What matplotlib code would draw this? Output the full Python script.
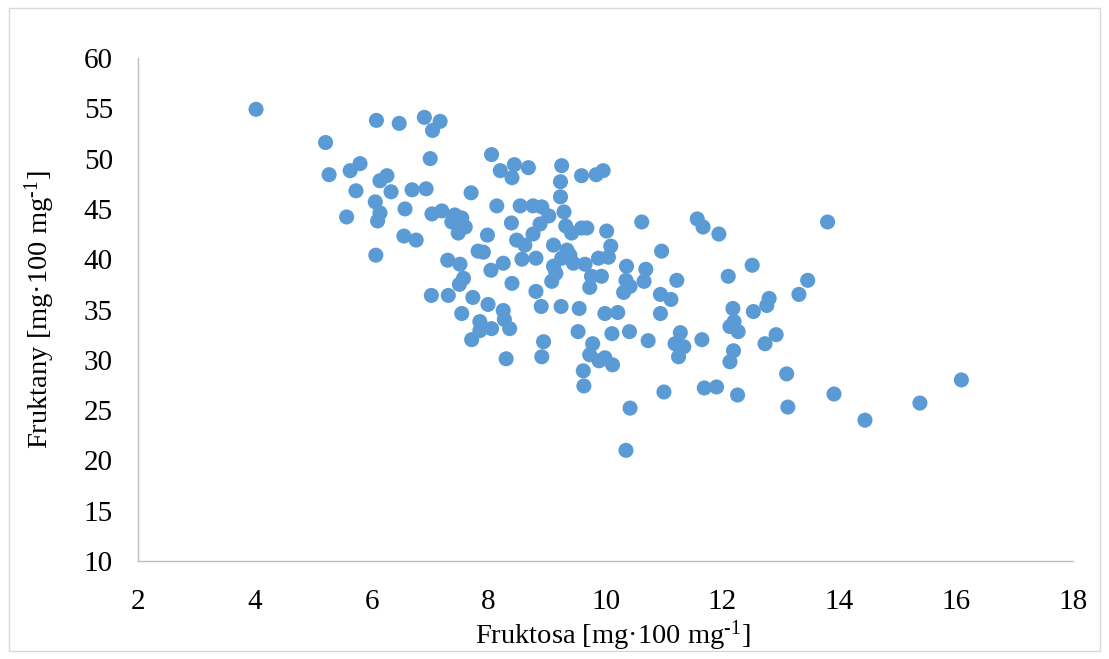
import matplotlib
matplotlib.use("Agg")
import matplotlib.pyplot as plt
from matplotlib.patches import Rectangle

# Fructose vs. fructan content of the samples [mg·100 mg^-1]
fruktosa = [
    4.02, 5.21, 5.27, 5.63, 5.80, 5.73, 5.57, 6.08, 6.47, 6.90,
    7.17, 7.04, 7.00, 6.14, 6.26, 6.33, 6.06, 6.14, 6.10, 6.57,
    6.69, 6.93, 6.07, 6.55, 6.76, 7.03, 7.20, 7.42, 7.54, 7.60,
    7.48, 7.37, 7.70, 8.05, 8.20, 8.44, 8.40, 8.68, 8.14, 7.98,
    8.54, 8.76, 8.91, 9.03, 8.88, 8.76, 8.39, 8.48, 8.62, 7.82,
    7.91, 7.30, 7.51, 8.57, 8.81, 8.04, 8.25, 9.11, 9.11, 9.08,
    7.57, 7.50, 8.40, 8.81, 8.90, 7.02, 7.31, 7.73, 7.99, 7.54,
    7.85, 8.05, 7.85, 8.25, 8.27, 8.36, 7.71, 8.30, 8.94, 8.91,
    9.24, 9.25, 9.23, 9.23, 9.59, 9.84, 9.96, 9.29, 9.32, 9.42,
    9.59, 9.68, 10.02, 10.09, 10.62, 11.57, 11.67, 11.94, 10.96, 9.34,
    9.39, 9.25, 9.45, 9.65, 9.88, 10.05, 9.15, 9.76, 9.93, 9.73,
    10.36, 10.35, 10.42, 10.31, 10.69, 10.66, 11.22, 10.94, 11.12, 10.94,
    9.55, 9.99, 10.21, 9.53, 10.11, 10.41, 9.78, 10.73, 11.28, 11.65,
    11.19, 11.34, 11.25, 9.73, 9.89, 9.99, 10.12, 9.62, 9.63, 11.00,
    10.42, 10.35, 12.10, 12.51, 13.46, 13.31, 12.80, 12.76, 12.53, 12.18,
    12.20, 12.13, 12.27, 12.19, 12.13, 12.92, 12.73, 13.10, 13.12, 12.26,
    11.90, 11.69, 13.80, 13.91, 14.44, 15.38, 16.09,
]
fruktany = [
    54.9, 51.6, 48.4, 48.8, 49.5, 46.8, 44.2, 53.8, 53.5, 54.1,
    53.7, 52.8, 50.0, 47.8, 48.3, 46.7, 45.7, 44.6, 43.8, 45.0,
    46.9, 47.0, 40.4, 42.3, 41.9, 44.5, 44.8, 44.4, 44.1, 43.2,
    42.6, 43.7, 46.6, 50.4, 48.8, 49.4, 48.1, 49.1, 45.3, 42.4,
    45.3, 45.3, 45.2, 44.3, 43.5, 42.5, 43.6, 41.9, 41.4, 40.8,
    40.7, 39.9, 39.5, 40.0, 40.1, 38.9, 39.6, 41.4, 39.3, 37.8,
    38.1, 37.5, 37.6, 36.8, 35.3, 36.4, 36.4, 36.2, 35.5, 34.6,
    33.8, 33.1, 32.9, 34.9, 34.0, 33.1, 32.0, 30.1, 31.8, 30.3,
    35.3, 49.3, 47.7, 46.2, 48.3, 48.4, 48.8, 44.7, 43.3, 42.6,
    43.1, 43.1, 42.8, 41.3, 43.7, 44.0, 43.2, 42.5, 40.8, 40.9,
    40.4, 40.1, 39.6, 39.5, 40.1, 40.2, 38.6, 38.3, 38.3, 37.2,
    39.3, 37.9, 37.3, 36.7, 39.0, 37.8, 37.9, 36.5, 36.0, 34.6,
    35.1, 34.6, 34.7, 32.8, 32.6, 32.8, 31.6, 31.9, 32.7, 32.0,
    31.6, 31.3, 30.3, 30.5, 29.9, 30.2, 29.5, 28.9, 27.4, 26.8,
    25.2, 21.0, 38.3, 39.4, 37.9, 36.5, 36.1, 35.4, 34.8, 35.1,
    33.8, 33.3, 32.8, 30.9, 29.8, 32.5, 31.6, 28.6, 25.3, 26.5,
    27.3, 27.2, 43.7, 26.6, 24.0, 25.7, 28.0,
]

x_ticks = [2, 4, 6, 8, 10, 12, 14, 16, 18]
y_ticks = [10, 15, 20, 25, 30, 35, 40, 45, 50, 55, 60]

x_title = "Fruktosa [mg·100 mg$^{\u2010 1}$]"
y_title = "Fruktany [mg·100 mg$^{\u2010 1}$]"

plt.rcParams["font.family"] = ["Liberation Serif", "DejaVu Serif"]
plt.rcParams["mathtext.fontset"] = "custom"
plt.rcParams["mathtext.rm"] = "Liberation Serif"
plt.rcParams["mathtext.it"] = "Liberation Serif"
plt.rcParams["mathtext.bf"] = "Liberation Serif:bold"
plt.rcParams["mathtext.default"] = "regular"

W, H = 1109, 659
fig = plt.figure(figsize=(W / 100, H / 100), dpi=100)

# chart-area frame
fig.patches.append(Rectangle((9 / W, 1 - 651 / H), (1100 - 9) / W, (651 - 8) / H,
                             transform=fig.transFigure, fill=False,
                             edgecolor="#D9D9D9", linewidth=1.0))

ax = fig.add_axes([138 / W, 1 - 561 / H, (1073 - 138) / W, (561 - 58) / H])
ax.scatter(fruktosa, fruktany, s=118, color="#5B9BD5", edgecolors="none", zorder=3)

ax.set_xlim(2, 18)
ax.set_ylim(10, 60)
ax.set_xticks(x_ticks)
ax.set_yticks(y_ticks)
ax.tick_params(axis="both", length=0, labelsize=21, colors="#000000")
ax.tick_params(axis="x", pad=20)
ax.tick_params(axis="y", pad=18)

for side in ("top", "right"):
    ax.spines[side].set_visible(False)
for side in ("left", "bottom"):
    ax.spines[side].set_color("#BFBFBF")
    ax.spines[side].set_linewidth(1.0)

fig.text(613 / W, 1 - 636 / H, x_title, fontsize=20.5, ha="center", va="center")
fig.text(40 / W, 1 - 310 / H, y_title, fontsize=20.5, ha="center", va="center",
         rotation=90)

fig.savefig("out.png", dpi=100)
